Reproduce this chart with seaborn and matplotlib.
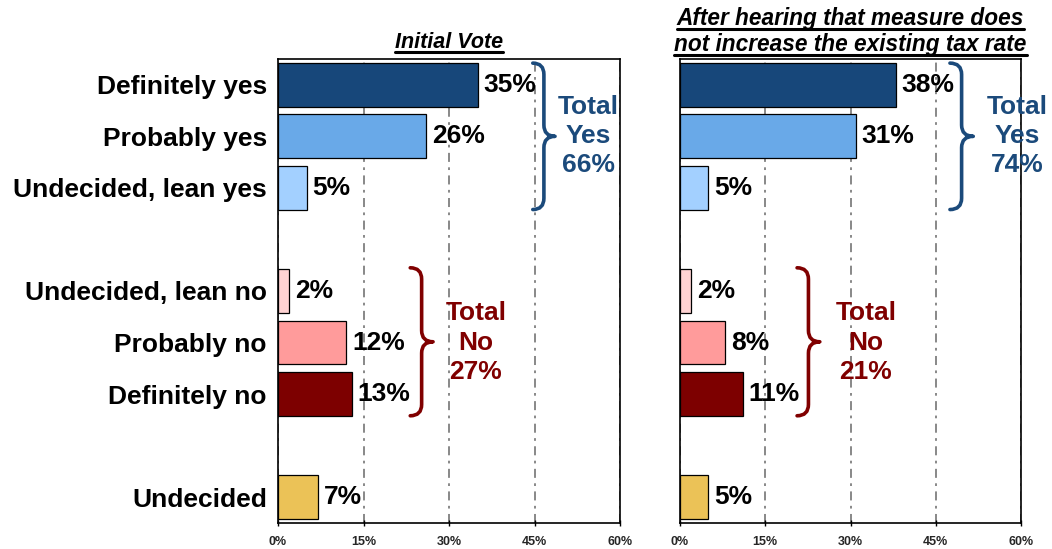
import matplotlib
matplotlib.use("Agg")
import matplotlib.pyplot as plt
from matplotlib.path import Path
from matplotlib.patches import PathPatch
from matplotlib.lines import Line2D
from matplotlib.ticker import FuncFormatter
import pandas as pd
import seaborn as sns

# ---- data -------------------------------------------------------------
categories = ["Definitely yes", "Probably yes", "Undecided, lean yes",
              "Undecided, lean no", "Probably no", "Definitely no", "Undecided"]
initial_vote = [35, 26, 5, 2, 12, 13, 7]
after_tax_info = [38, 31, 5, 2, 8, 11, 5]
yes_group = categories[0:3]
no_group = categories[3:6]
x_ticks = [0, 15, 30, 45, 60]
panel_titles = [["Initial Vote"],
                ["After hearing that measure does",
                 "not increase the existing tax rate"]]

bar_colors = ["#17477A", "#69A9E8", "#A3D0FF", "#FFD3D3", "#FF9B9B",
              "#7D0000", "#EBC257"]
yes_color = "#1B4A7B"
no_color = "#800000"

# blank slots separate the yes block, the no block and "Undecided"
row_order = categories[0:3] + [" "] + categories[3:6] + ["  "] + categories[6:]

sns.set_theme(style="white")
plt.rcParams["font.family"] = ["Liberation Sans", "DejaVu Sans"]

W, H = 1052, 549
fig = plt.figure(figsize=(W / 100, H / 100), dpi=100)
ax_left = fig.add_axes([278 / W, 1 - 523 / H, 342 / W, 464 / H])
ax_right = fig.add_axes([680 / W, 1 - 523 / H, 341 / W, 464 / H])


def draw_brace(ax, x_left, x_tip, y_top, y_bottom, color):
    xs = (x_left + x_tip) / 2
    ym = (y_top + y_bottom) / 2
    r = 0.22
    verts = [(x_left, y_top), (xs, y_top), (xs, y_top + r),
             (xs, ym - r),
             (xs, ym), (x_tip, ym),
             (xs, ym), (xs, ym + r),
             (xs, y_bottom - r),
             (xs, y_bottom), (x_left, y_bottom)]
    codes = [Path.MOVETO, Path.CURVE3, Path.CURVE3,
             Path.LINETO,
             Path.CURVE3, Path.CURVE3,
             Path.CURVE3, Path.CURVE3,
             Path.LINETO,
             Path.CURVE3, Path.CURVE3]
    patch = PathPatch(Path(verts, codes), fill=False, edgecolor=color,
                      lw=2.6, capstyle="round", joinstyle="round",
                      clip_on=False, zorder=5)
    ax.add_patch(patch)


# brace layout per panel: (x_left, x_tip, label centre x)
brace_layout = [
    {"yes": (44.7, 48.6, 54.4), "no": (23.2, 27.2, 34.7)},
    {"yes": (47.5, 51.6, 59.3), "no": (20.6, 24.6, 32.7)},
]

panels = [(ax_left, initial_vote), (ax_right, after_tax_info)]
for i, (ax, values) in enumerate(panels):
    df = pd.DataFrame({"response": categories, "pct": values})
    sns.barplot(data=df, x="pct", y="response", hue="response",
                order=row_order, hue_order=categories,
                palette=dict(zip(categories, bar_colors)), saturation=1,
                orient="h", width=0.85, edgecolor="black", linewidth=0.9,
                legend=False, ax=ax, zorder=3)

    for container in ax.containers:
        ax.bar_label(container, fmt="{:.0f}%", padding=4, fontsize=19,
                     fontweight="bold", color="black")

    ax.set_xlim(0, 60)
    ax.set_ylim(len(row_order) - 0.5, -0.5)
    ax.set_xticks(x_ticks)
    ax.xaxis.set_major_formatter(FuncFormatter(lambda v, _: f"{v:.0f}%"))
    ax.set_xlabel("")
    ax.set_ylabel("")
    ax.grid(axis="x", color="#7F7F7F", linestyle=(0, (5, 3, 1.5, 3)), lw=1.3)
    ax.grid(axis="y", visible=False)
    ax.set_axisbelow(True)
    for spine in ax.spines.values():
        spine.set_visible(True)
        spine.set_color("black")
        spine.set_linewidth(1.2)
    ax.tick_params(axis="x", direction="inout", length=5, width=1,
                   color="black", labelsize=9, pad=7, bottom=True)
    for lab in ax.get_xticklabels():
        lab.set_fontweight("bold")
    ax.tick_params(axis="y", length=0, pad=8, labelsize=19)
    if i == 0:
        for lab in ax.get_yticklabels():
            lab.set_fontweight("bold")
            lab.set_color("black")
    else:
        ax.tick_params(axis="y", labelleft=False)

    # totals with braces
    val = dict(zip(categories, values))
    yes_total = sum(val[c] for c in yes_group)
    no_total = sum(val[c] for c in no_group)
    y_rows = [row_order.index(c) for c in yes_group]
    n_rows = [row_order.index(c) for c in no_group]

    xl, xt, xc = brace_layout[i]["yes"]
    draw_brace(ax, xl, xt, min(y_rows) - 0.42, max(y_rows) + 0.42, yes_color)
    ax.text(xc, (min(y_rows) + max(y_rows)) / 2, f"Total\nYes\n{yes_total}%",
            ha="center", va="center", fontsize=19, fontweight="bold",
            color=yes_color, linespacing=1.27, clip_on=False, zorder=6)

    xl, xt, xc = brace_layout[i]["no"]
    draw_brace(ax, xl, xt, min(n_rows) - 0.45, max(n_rows) + 0.42, no_color)
    ax.text(xc, (min(n_rows) + max(n_rows)) / 2, f"Total\nNo\n{no_total}%",
            ha="center", va="center", fontsize=19, fontweight="bold",
            color=no_color, linespacing=1.27, clip_on=False, zorder=6)

# underlined panel titles
title_baselines = [[48], [25, 51]]
title_sizes = [15.5, 16.3]
title_items = []
for ax, lines, bases, size in zip([ax_left, ax_right], panel_titles,
                                  title_baselines, title_sizes):
    bb = ax.get_position()
    xc = (bb.x0 + bb.x1) / 2
    for line, base in zip(lines, bases):
        y = 1 - base / H
        t = fig.text(xc, y, line, ha="center", va="baseline", fontsize=size,
                     fontweight="bold", fontstyle="italic", color="black")
        title_items.append((t, y))

fig.canvas.draw()
renderer = fig.canvas.get_renderer()
for t, y in title_items:
    ext = t.get_window_extent(renderer)
    fig.add_artist(Line2D([ext.x0 / W, ext.x1 / W], [y - 4 / H, y - 4 / H],
                          transform=fig.transFigure, color="black", lw=2.2))

fig.savefig("out.png", dpi=100)
